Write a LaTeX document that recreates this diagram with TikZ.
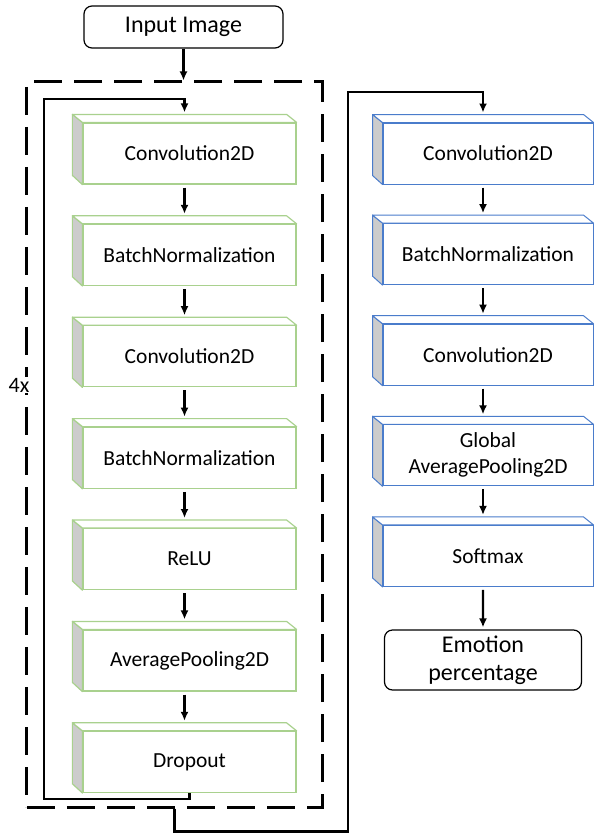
\documentclass[tikz,border=0pt]{standalone}
\usepackage{fontspec}
\setmainfont{Carlito}
\usepackage{xcolor}
\usetikzlibrary{shapes,arrows.meta,positioning}

\definecolor{layergreen}{HTML}{A9D18E}
\definecolor{layerblue}{HTML}{4A7CCB}

\begin{document}
\begin{tikzpicture}[x=1bp, y=1bp, node distance=101.4bp, auto]
	\tikzstyle{layer} = [rectangle, draw=layergreen, line width=1.2bp, fill=white,
	minimum width=213bp, minimum height=61bp, align=center, font=\fontsize{21.5bp}{26bp}\selectfont]
	\tikzstyle{bluelayer} = [layer, draw=layerblue, line width=1bp, minimum width=210bp]
	\tikzstyle{io} = [rectangle, draw, line width=1.2bp, rounded corners=8bp,
	align=center, font=\fontsize{24bp}{28bp}\selectfont]
	\tikzstyle{line} = [draw, -{Latex[length=9bp,width=8bp]}, line width=2.2bp, shorten <=3bp, shorten >=2bp]
	\tikzstyle{side} = [fill=gray!40, line width=1.2bp, line join=round]
	\tikzstyle{lid} = [fill=white, line width=1.2bp, line join=round]
	\useasboundingbox (0,0) rectangle (594,-833);
	% Repeated part
	\node [draw, line width=3bp, dash pattern=on 28bp off 12bp,
	minimum width=295bp, minimum height=725bp] (frame) at (174.5,-444.5) {};
	\node [fill=white, inner sep=1bp, font=\fontsize{22bp}{26bp}\selectfont] (times) at (19,-385) {4x};
	% Place nodes
	\node [io, minimum width=199bp, minimum height=42bp] (input) at (183.5,-27) {Input Image};
	\node [layer] (conv1) at (189.5,-153.5) {Convolution2D};
	\node [layer, below of=conv1] (bn1) {BatchNormalization};
	\node [layer, below of=bn1] (conv2) {Convolution2D};
	\node [layer, below of=conv2] (bn2) {BatchNormalization};
	\node [layer, below of=bn2] (relu) {ReLU};
	\node [layer, below of=relu] (pool) {AveragePooling2D};
	\node [layer, below of=pool] (drop) {Dropout};
	\node [bluelayer] (conv3) at (488,-153.5) {Convolution2D};
	\node [bluelayer, below of=conv3, node distance=100.6bp] (bn3) {BatchNormalization};
	\node [bluelayer, below of=bn3, node distance=100.6bp] (conv4) {Convolution2D};
	\node [bluelayer, below of=conv4, node distance=100.6bp] (gap) {Global\\AveragePooling2D};
	\node [bluelayer, below of=gap, node distance=100.6bp] (soft) {Softmax};
	\node [io, minimum width=197bp, minimum height=60bp] (out) at (483,-660) {Emotion\\percentage};
	% Box depth
	\foreach \n in {conv1,bn1,conv2,bn2,relu,pool,drop} {
		\draw [side, draw=layergreen] (\n.north west) -- ++(-10,8) -- ++(0,-61) -- (\n.south west) -- cycle;
		\draw [lid, draw=layergreen] (\n.north west) -- ++(-10,8) -- ([shift={(-10bp,8bp)}]\n.north east) -- (\n.north east) -- cycle;
	}
	\foreach \n in {conv3,bn3,conv4,gap,soft} {
		\draw [side, draw=layerblue, line width=1bp] (\n.north west) -- ++(-10,8) -- ++(0,-61) -- (\n.south west) -- cycle;
		\draw [lid, draw=layerblue, line width=1bp] (\n.north west) -- ++(-10,8) -- ([shift={(-10bp,8bp)}]\n.north east) -- (\n.north east) -- cycle;
	}
	\coordinate (back) at (44,-99);
	\coordinate (over) at (348,-92);
	% Draw edges
	\path [line, shorten <=0bp, shorten >=0bp] (input) -- (input |- frame.north);
	\path [line, shorten <=0bp] (drop.south) -- ++(0,-6) -| (back) -| ([shift={(-5bp,8bp)}]conv1.north);
	\path [line] ([xshift=-5bp]conv1.south) -- ([shift={(-5bp,8bp)}]bn1.north);
	\path [line] ([xshift=-5bp]bn1.south) -- ([shift={(-5bp,8bp)}]conv2.north);
	\path [line] ([xshift=-5bp]conv2.south) -- ([shift={(-5bp,8bp)}]bn2.north);
	\path [line] ([xshift=-5bp]bn2.south) -- ([shift={(-5bp,8bp)}]relu.north);
	\path [line] ([xshift=-5bp]relu.south) -- ([shift={(-5bp,8bp)}]pool.north);
	\path [line] ([xshift=-5bp]pool.south) -- ([shift={(-5bp,8bp)}]drop.north);
	\path [line, shorten <=0bp] (frame.south) -- ++(0,-23) -| (over) -| ([shift={(-5bp,8bp)}]conv3.north);
	\path [line] ([xshift=-5bp]conv3.south) -- ([shift={(-5bp,8bp)}]bn3.north);
	\path [line] ([xshift=-5bp]bn3.south) -- ([shift={(-5bp,8bp)}]conv4.north);
	\path [line] ([xshift=-5bp]conv4.south) -- ([shift={(-5bp,8bp)}]gap.north);
	\path [line] ([xshift=-5bp]gap.south) -- ([shift={(-5bp,8bp)}]soft.north);
	\path [line] ([xshift=-5bp]soft.south) -- (out.north);
\end{tikzpicture}
\end{document}
